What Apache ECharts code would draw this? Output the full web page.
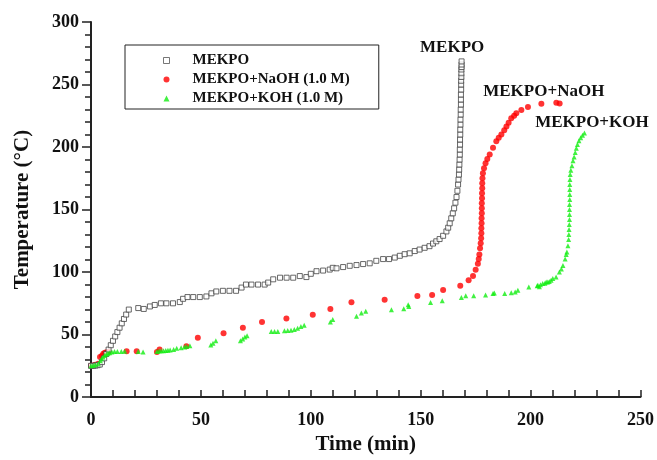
<!DOCTYPE html>
<html>
<head>
<meta charset="utf-8">
<script src="https://cdn.jsdelivr.net/npm/echarts@6/dist/echarts.min.js"></script>
<style>html,body{margin:0;padding:0;background:#fff;}#c{width:657px;height:460px;}</style>
</head>
<body>
<div id="c"></div>
<script>
// Data: [time (min), temperature (°C)]
var seriesNames = ['MEKPO', 'MEKPO+NaOH (1.0 M)', 'MEKPO+KOH (1.0 M)'];
var xTicks = [0, 50, 100, 150, 200, 250];
var yTicks = [0, 50, 100, 150, 200, 250, 300];

var mekpo = [
  [0,25],[1,25],[2,25.2],[3,25.5],[4,26],[5,28],[6,31],[7,34.5],[8,38],[9,41.5],[10,45],[11,48.5],[12,52],
  [13,55.5],[14,59],[15,62.5],[16,66],[17.2,70],[21.5,71.2],[24,70.5],[26.8,72.5],[29,73.7],[31.8,75],
  [34.3,75],[37.3,75],[40.4,76],[41.9,78.6],[43.9,80],[46.5,80],[49.5,80],[52.5,80.5],[54.8,83],[57,84.5],
  [60,85],[63,85],[66,85],[68.5,87.6],[70.5,90],[73,90],[76,90],[79,90],[80.6,91.6],[82.9,94.2],[86,95.5],
  [89,95.5],[92,95.5],[95,96.8],[98,96],[100,98.6],[102.6,100.7],[105.6,101.2],[108.6,102],[110,103.4],
  [111.7,103],[114.7,104],[117.7,105],[120.8,105.6],[123.8,106.4],[126.8,107],[129.8,109],[132.9,110.4],
  [135.6,110.4],[138.2,111.6],[140.5,113],[142.7,114.3],[145,115],[147.3,116.8],[149.5,118],[151.8,119.4],
  [154,120.7],[155.6,122.8],[157.1,124.6],[158.6,126.4],[160.2,129],[161.7,132.5],[162.5,135.5],[163.2,139],
  [163.9,143],[164.6,147],[165.2,151],[165.8,155.5],[166.3,160],[166.7,165],[167,170],[167.2,174],
  [167.4,178],[167.5,182],[167.6,186],[167.7,190],[167.8,194],[167.8,198],[167.9,202],[167.9,206],
  [168,210],[168,214],[168.1,218],[168.1,222],[168.2,226],[168.2,230],[168.3,234],[168.3,238],[168.3,242],
  [168.4,246],[168.4,250],[168.4,253],[168.5,256],[168.5,259],[168.5,262],[168.6,264],[168.6,266],[168.6,268.5]
];

var naoh = [
  [0,25],[1,25.3],[2,25.8],[3.3,26.7],[4.1,32],[5,33],[5.6,34.6],[6.3,35.5],[7.1,35.9],[8,36.2],
  [16.2,36.6],[20.8,36.6],[30,36],[31.2,38],[43.4,40.7],[48.6,47.5],[60.3,51],[69.1,55.5],[77.8,60.1],
  [88.9,62.8],[100.9,65.9],[108.9,70.4],[118.5,75.9],[133.6,77.8],[148.5,80.9],[155.2,81.7],[160.2,85.6],
  [168,89],[171.8,93.5],[173.8,96.9],[175,101.8],[176,106.6],[176.4,110.4],[176.7,114],[177,119],
  [177.3,123],[177.5,127],[177.6,131],[177.6,135],[177.7,139],[177.7,143],[177.8,147],[177.8,151],
  [177.8,155],[177.9,159],[177.9,163],[178,167],[178,171],[178.1,175],[178.3,179],[178.8,183],
  [179.5,187],[180.3,190.5],[181.4,194],[182.9,199.5],[184.4,204.7],[185.5,207.5],[186.7,210],
  [188,213.5],[189,216.5],[190,219.5],[191.2,223],[192.5,225],[193.5,227],[195.8,229.6],[198.8,232],
  [204.9,234.6],[211.7,235.4],[213.2,234.8]
];

var koh = [
  [0,25],[1,25.3],[2,25.8],[3.3,26.7],[4.2,29],[4.8,30.6],[5.5,32],[6.2,33.3],[7,34.3],[7.7,35],
  [8.5,35.5],[9.5,36],[10.7,36.4],[12,36.4],[13.8,36.5],[15.3,36.6],[21.5,36.5],[23.7,36],[30,36.5],
  [31,36.8],[32,37],[33,37],[34,37.2],[35,37.5],[36,37.6],[37.6,38],[39,39],[41,39.5],[42.5,40],
  [43.5,40.5],[45,41],[54.5,41.6],[55.5,43],[56.8,45],[68,45],[69,46.5],[70,48],[71,49],[82,52.4],
  [83.5,52.4],[85,52.4],[88,53],[89.5,53.2],[91,53.5],[92.5,54],[94,55],[95.5,56.5],[97,57.5],
  [108.9,60],[110,62],[120.8,64.7],[123,67.3],[125,68.6],[136.7,69.9],[142.3,70.7],[144.3,73.8],
  [144.6,72.5],[154.5,75.7],[159.8,77],[168.5,79.6],[170.5,81],[174.1,81],[179.5,81.6],[182.9,82.9],
  [183.5,83.2],[188.2,82.9],[191.2,83.4],[193,84],[194.2,85.5],[199.2,88],[203,89],[203.3,89.5],
  [204,88.2],[204.5,89.8],[205.5,90.8],[206.5,91],[207.1,92],[207.8,92.1],[208.5,92.5],[209.3,93.4],
  [210.1,94.8],[211.6,96],[213.1,100],[214,102.5],[214.7,105.3],[215.7,110.4],[216.2,114],[216.5,116],
  [217,121],[217.3,126],[217.4,130],[217.5,134],[217.6,138],[217.7,142],[217.7,146],[217.7,150],
  [217.7,154],[217.8,158],[217.8,162],[217.8,166],[217.8,170],[217.9,174],[218,178],[218.3,181.5],
  [218.8,185],[219.3,189],[219.8,192],[220.3,195.6],[220.8,199],[221.3,202],[222,205],[222.8,207.4],
  [223.6,209.5],[224.5,211.3]
];

// Curve annotations, anchored in data coordinates (text centre)
var annoTexts = ['MEKPO', 'MEKPO+NaOH', 'MEKPO+KOH'];
var annoAt = [[164.3, 279.3], [206, 244], [227.9, 219.9]];

var FONT = '"Liberation Serif", "Times New Roman", serif';
var chart = echarts.init(document.getElementById('c'), null, {renderer: 'canvas'});

var option = {
  backgroundColor: '#fff',
  animation: false,
  grid: {left: 91, right: 16, top: 22, bottom: 56, containLabel: false},
  legend: {
    orient: 'vertical',
    left: 125, top: 45,
    padding: [8, 29, 3, 38],
    itemWidth: 6, itemHeight: 6, itemGap: 4,
    borderColor: '#222', borderWidth: 1,
    textStyle: {fontFamily: FONT, fontWeight: 'bold', fontSize: 15, color: '#111', padding: [0, 0, 0, 18]},
    data: [
      {name: seriesNames[0], itemStyle: {color: '#fff', borderColor: '#555', borderWidth: 1}},
      {name: seriesNames[1]},
      {name: seriesNames[2]}
    ]
  },
  xAxis: {
    type: 'value', min: 0, max: 250, interval: 50,
    name: 'Time (min)', nameLocation: 'middle', nameGap: 36,
    nameTextStyle: {fontFamily: FONT, fontWeight: 'bold', fontSize: 21, color: '#111'},
    axisLine: {show: true, lineStyle: {color: '#222', width: 2}},
    axisTick: {show: true, inside: true, length: 7, lineStyle: {color: '#222', width: 1.5}},
    minorTick: {show: true, splitNumber: 5, length: 7, lineStyle: {color: '#222', width: 1.5}},
    axisLabel: {margin: 14, fontFamily: FONT, fontWeight: 'bold', fontSize: 18, color: '#111',
      formatter: function (v) { return xTicks.indexOf(v) >= 0 ? String(v) : ''; }},
    splitLine: {show: false}
  },
  yAxis: {
    type: 'value', min: 0, max: 300, interval: 50,
    name: 'Temperature (°C)', nameLocation: 'middle', nameGap: 58,
    nameTextStyle: {fontFamily: FONT, fontWeight: 'bold', fontSize: 21, color: '#111'},
    axisLine: {show: true, lineStyle: {color: '#222', width: 2}},
    axisTick: {show: true, inside: false, length: 9, lineStyle: {color: '#222', width: 1.5}},
    minorTick: {show: true, splitNumber: 5, length: 6, lineStyle: {color: '#222', width: 1.5}},
    axisLabel: {margin: 12, fontFamily: FONT, fontWeight: 'bold', fontSize: 18, color: '#111',
      formatter: function (v) { return yTicks.indexOf(v) >= 0 ? String(v) : ''; }},
    splitLine: {show: false}
  },
  series: [
    {name: seriesNames[0], type: 'scatter', data: mekpo, symbol: 'rect', symbolSize: 5, z: 3,
      itemStyle: {color: '#fff', borderColor: '#444', borderWidth: 1}},
    {name: seriesNames[1], type: 'scatter', data: naoh, symbol: 'circle', symbolSize: 6, z: 2,
      itemStyle: {color: '#ff0000', borderWidth: 0}},
    {name: seriesNames[2], type: 'scatter', data: koh, symbol: 'triangle', symbolSize: 5, z: 4,
      itemStyle: {color: '#11ee11', borderWidth: 0}}
  ]
};
chart.setOption(option);

var graphics = annoTexts.map(function (t, i) {
  var p = chart.convertToPixel({gridIndex: 0}, annoAt[i]);
  return {type: 'text', x: p[0], y: p[1], z: 10,
    style: {text: t, fontFamily: FONT, fontWeight: 'bold', fontSize: 17, fill: '#111',
      textAlign: 'center', textVerticalAlign: 'middle'}};
});
chart.setOption({graphic: graphics});
</script>
</body>
</html>
